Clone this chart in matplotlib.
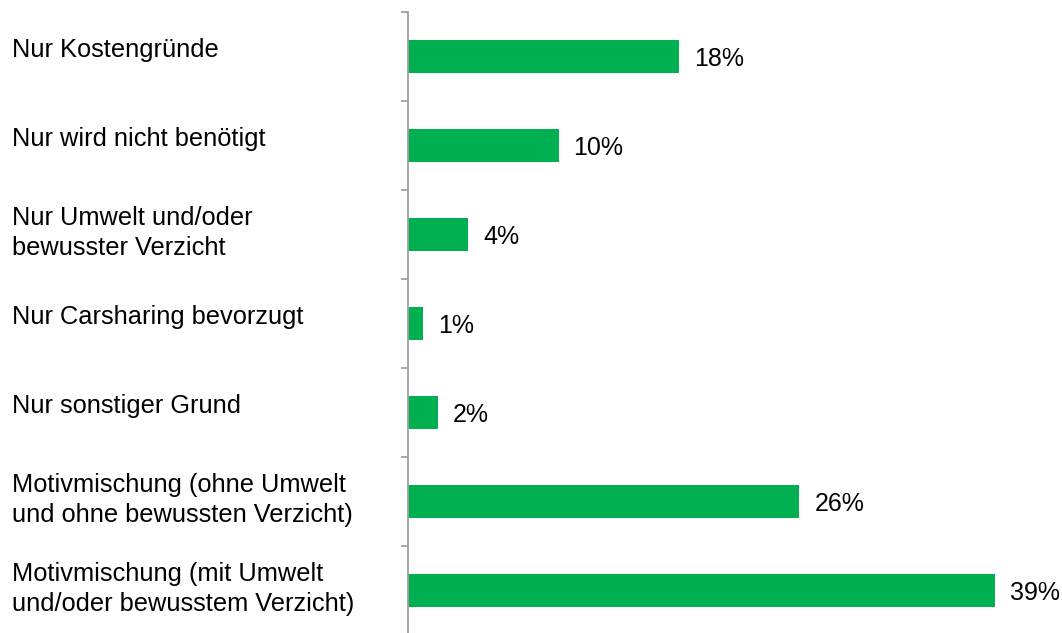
import matplotlib
matplotlib.use("Agg")
import matplotlib.pyplot as plt
from matplotlib.transforms import blended_transform_factory, offset_copy

categories = [
    "Nur Kostengründe",
    "Nur wird nicht benötigt",
    "Nur Umwelt und/oder\nbewusster Verzicht",
    "Nur Carsharing bevorzugt",
    "Nur sonstiger Grund",
    "Motivmischung (ohne Umwelt\nund ohne bewussten Verzicht)",
    "Motivmischung (mit Umwelt\nund/oder bewusstem Verzicht)",
]
values = [18, 10, 4, 1, 2, 26, 39]
value_labels = ["18%", "10%", "4%", "1%", "2%", "26%", "39%"]

plt.rcParams['font.family'] = ['Liberation Sans', 'DejaVu Sans']

W, H = 1062, 633
fig = plt.figure(figsize=(W / 100, H / 100), dpi=100)
left_px, right_px = 408, 1062
top_px, bottom_px = 12, 635
ax = fig.add_axes([left_px / W, 1 - bottom_px / H, (right_px - left_px) / W, (bottom_px - top_px) / H])

n = len(categories)
ypos = list(range(n))
ax.barh(ypos, values, height=0.38, color='#00B050', edgecolor='none')
ax.set_ylim(n - 0.5, -0.5)
px_per_unit = (995 - 408) / 39.0
ax.set_xlim(0, (right_px - left_px) / px_per_unit)

for s in ['top', 'right', 'bottom']:
    ax.spines[s].set_visible(False)
ax.spines['left'].set_color('#a0a0a0')
ax.spines['left'].set_linewidth(1.3)
ax.set_xticks([])
ax.set_yticks([i - 0.5 for i in range(n + 1)])
ax.set_yticklabels([])
ax.tick_params(axis='y', length=5, width=1.3, color='#a0a0a0', direction='out')

trans = blended_transform_factory(fig.transFigure, ax.transData)
for i, lab in enumerate(categories):
    dy = -20 if '\n' in lab else 0
    t = offset_copy(trans, fig=fig, x=0, y=dy, units='dots')
    ax.text(12 / W, i, lab, transform=t, ha='left', va='baseline',
            fontsize=18.3, linespacing=1.28, color='#000000')

vt = offset_copy(ax.transData, fig=fig, x=15, y=-9.5, units='dots')
for i, (v, lab) in enumerate(zip(values, value_labels)):
    ax.text(v, i, lab, transform=vt, ha='left', va='baseline', fontsize=18, color='#000000')

fig.savefig("out.png", dpi=100)
